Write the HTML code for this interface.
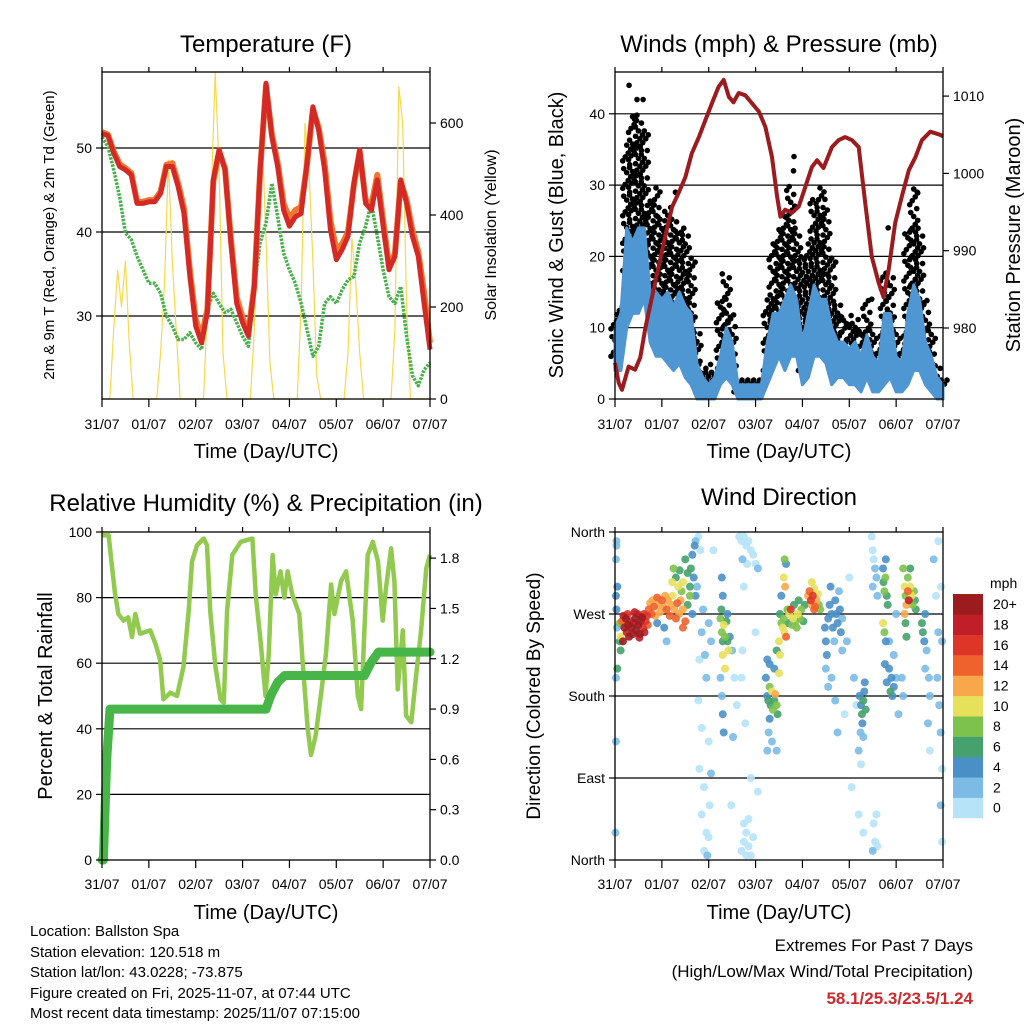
<!DOCTYPE html>
<html><head><meta charset="utf-8"><title>Weather Station Charts</title>
<style>
html,body{margin:0;padding:0;background:#fff;}
svg{display:block;font-family:"Liberation Sans",Arial,sans-serif;}
</style></head>
<body>
<svg id="fig" width="1024" height="1024" viewBox="0 0 1024 1024" xmlns="http://www.w3.org/2000/svg">
<rect x="0" y="0" width="1024" height="1024" fill="#fff"/>
<g id="layer"></g>
<!-- Titles -->
<text x="266" y="52" font-size="24" text-anchor="middle">Temperature (F)</text>
<text x="779" y="52" font-size="24" text-anchor="middle">Winds (mph) &amp; Pressure (mb)</text>
<text x="266" y="511" font-size="24" text-anchor="middle">Relative Humidity (%) &amp; Precipitation (in)</text>
<text x="779" y="505" font-size="24" text-anchor="middle">Wind Direction</text>
<!-- x axis titles -->
<text x="266" y="458" font-size="20" text-anchor="middle">Time (Day/UTC)</text>
<text x="779" y="458" font-size="20" text-anchor="middle">Time (Day/UTC)</text>
<text x="266" y="919" font-size="20" text-anchor="middle">Time (Day/UTC)</text>
<text x="779" y="919" font-size="20" text-anchor="middle">Time (Day/UTC)</text>
<!-- y axis titles -->
<text transform="translate(54,235) rotate(-90)" font-size="15" text-anchor="middle">2m &amp; 9m T (Red, Orange) &amp; 2m Td (Green)</text>
<text transform="translate(496,235) rotate(-90)" font-size="16" text-anchor="middle">Solar Insolation (Yellow)</text>
<text transform="translate(563,235) rotate(-90)" font-size="20" text-anchor="middle">Sonic Wind &amp; Gust (Blue, Black)</text>
<text transform="translate(1020,235) rotate(-90)" font-size="20" text-anchor="middle">Station Pressure (Maroon)</text>
<text transform="translate(52,696) rotate(-90)" font-size="20" text-anchor="middle">Percent &amp; Total Rainfall</text>
<text transform="translate(540,696) rotate(-90)" font-size="19" text-anchor="middle">Direction (Colored By Speed)</text>
<!-- info -->
<g font-size="15">
<text x="30" y="936">Location: Ballston Spa</text>
<text x="30" y="957">Station elevation: 120.518 m</text>
<text x="30" y="977">Station lat/lon: 43.0228; -73.875</text>
<text x="30" y="998">Figure created on Fri, 2025-11-07, at 07:44 UTC</text>
<text x="30" y="1018">Most recent data timestamp: 2025/11/07 07:15:00</text>
</g>
<text x="973" y="951" font-size="17" text-anchor="end">Extremes For Past 7 Days</text>
<text x="973" y="977" font-size="17" text-anchor="end">(High/Low/Max Wind/Total Precipitation)</text>
<text x="973" y="1004" font-size="17" font-weight="bold" fill="#cc2a2f" text-anchor="end">58.1/25.3/23.5/1.24</text>
</svg>
<script>
// ---------------- DATA ----------------
const dayLabels = ['31/07','01/07','02/07','03/07','04/07','05/07','06/07','07/07'];
// temperature, 3-hourly (t = k/8 days)
const temp2m = [51.7,51.5,49.4,47.8,47.4,46.8,43.4,43.4,43.6,43.6,44.6,47.8,47.8,45.4,42.2,34.7,28.8,26.8,30.4,46.2,49.8,47.4,38.7,31.5,29.2,27.6,33.5,47.4,57.7,51.3,47.8,42.6,40.7,41.8,42.2,48.2,54.9,52.1,47.4,40.3,36.7,37.9,39.5,45.8,49.8,43.4,42.6,46.2,40.7,35.5,37.1,46.2,43.4,39.5,37.1,31.5,26.0];
const temp9m = [51.9,51.6,49.6,48.1,47.6,47.0,43.6,43.6,43.8,43.8,44.8,48.0,48.2,45.8,42.8,35.4,29.6,27.6,30.8,46.0,49.6,47.6,39.2,32.2,29.8,28.0,33.6,47.2,57.4,51.6,48.2,43.4,41.6,42.6,43.0,48.0,54.6,52.4,48.2,41.4,37.8,38.6,40.0,45.6,49.6,43.8,43.2,46.8,41.4,36.0,37.4,46.0,43.8,40.2,37.6,32.8,26.8];
const dewPoint = [51.3,50.2,47.4,44.2,39.9,39.1,37.1,35.5,33.9,33.9,32.7,30.0,28.8,27.2,27.2,28.0,26.8,26.0,30.8,32.7,31.5,30.4,30.8,29.2,27.6,26.4,33.5,38.7,41.1,45.8,41.8,37.5,35.5,33.9,31.5,28.4,25.2,26.4,31.5,32.3,31.5,33.1,34.3,34.7,38.7,40.7,43.4,39.5,35.5,32.3,31.5,33.5,27.6,22.9,21.7,23.6,24.4];
// solar insolation, 2-hourly (t = i/12 days)
const solar = [0,0,0,150,280,200,300,120,0,0,0,0, 0,0,0,100,250,520,300,150,0,0,0,0, 0,0,0,200,450,710,500,100,0,0,0,0, 0,0,0,150,400,570,350,80,0,0,0,0, 0,0,0,200,600,500,300,50,0,0,0,0, 0,0,0,100,350,250,100,0,0,0,0,0, 0,0,0,150,680,600,200,0,0,0,0,0, 0];
// wind, 3-hourly
const windLo = [4,4,10,12,12,14,8,6,6,5,4,5,3,2,0,0,0,0,2,3,2,0,0,0,0,0,2,4,6,4,6,6,2,3,6,6,5,2,3,3,2,2,1,3,1,1,2,3,1,1,2,4,4,2,1,0,0];
const windHi = [10,12,24,22,24,24,15,15,14,15,13,15,13,12,5,3,2,3,6,10,8,2,2,2,2,2,8,12,12,14,16,14,8,12,16,14,14,10,8,8,7,8,6,9,6,5,12,12,6,5,12,16,14,8,6,3,2];
const gustLo = [6,8,18,22,20,20,14,12,14,12,10,12,8,6,2,1,1,1,3,6,3,1,1,1,1,1,4,8,10,8,10,8,4,8,12,12,10,6,6,5,4,4,3,5,3,2,5,6,3,2,5,8,8,5,3,1,1];
const gustHi = [12,14,36,40,40,38,28,30,26,27,25,24,24,20,10,5,4,5,14,18,12,3,3,3,3,3,14,22,24,26,30,24,20,22,28,30,27,20,14,12,11,12,10,14,10,8,18,18,10,8,24,30,24,14,10,5,3];
const gustOutlierT = [0.3,0.47,0.6,1.29,3.81,3.82,4.48,5.48,5.83,6.45,2.37];
const gustOutlierV = [44,42,42,29,32,34,28,14,24,29,14];
// pressure
const presT = [0,0.08,0.15,0.29,0.43,0.54,0.65,0.79,0.93,1.07,1.22,1.36,1.5,1.64,1.79,1.93,2.07,2.21,2.32,2.43,2.53,2.64,2.78,2.92,3.07,3.21,3.35,3.46,3.53,3.63,3.78,3.92,4.06,4.2,4.31,4.45,4.63,4.77,4.91,5.06,5.2,5.34,5.48,5.63,5.73,5.84,5.98,6.12,6.27,6.41,6.55,6.73,6.94,7.0];
const presV = [975.5,972.9,972,975,974.6,976.2,980.1,984,987.9,991.8,995.7,997.5,999.5,1002.6,1004.7,1006.9,1009.1,1011.2,1012.1,1009.9,1009.2,1010.4,1010.1,1009.1,1008,1006,1002.1,997,994.4,995.3,994.9,995.7,998.2,1000.8,1001.7,1000.7,1003.4,1004.3,1004.7,1004.3,1003.4,996.2,989.2,985.8,984,987.5,993.6,997,1000.4,1002.1,1004.3,1005.4,1005,1004.8];
// relative humidity
const rhT = [0,0.14,0.21,0.28,0.35,0.46,0.56,0.64,0.71,0.81,1.03,1.14,1.24,1.31,1.46,1.6,1.74,1.85,1.92,2.03,2.17,2.24,2.31,2.42,2.53,2.6,2.67,2.78,2.96,3.21,3.28,3.39,3.49,3.56,3.64,3.71,3.81,3.89,3.96,4.06,4.21,4.28,4.39,4.46,4.56,4.67,4.78,4.89,4.96,5.1,5.21,5.35,5.46,5.53,5.6,5.67,5.78,5.89,5.99,6.06,6.17,6.24,6.31,6.42,6.49,6.6,6.71,6.81,6.92,7.0];
const rhV = [99,99,90,81,75,73,74,68,75,69,70,66,61,49,51,50,59,76,91,96,98,96,76,59,49,48,76,93,97,98,81,66,50,63,93,81,88,80,88,81,75,61,40,32,38,50,63,84,75,85,88,73,50,46,70,93,97,91,73,83,95,85,52,70,44,42,57,70,89,93];
const precipT = [0,0.03,0.1,0.17,3.5,3.6,3.75,3.9,5.6,5.75,5.9,7.0];
const precipV = [0,0,0.6,0.9,0.9,0.98,1.06,1.1,1.1,1.18,1.24,1.24];
// wind direction observations: time (days), direction (deg), speed (mph)
const dirObs = [
[0.02,290,4],[0.03,275,4],[0.05,300,4],[0.04,255,3],[0.02,330,3],[0.03,350,3],[0.1,240,6],[0.12,230,7],[0.1,260,8],[0.02,200,3],[0.05,210,7],[0.02,130,3],[0.01,30,2],[0.03,345,2],
[0.15,262,14],[0.18,268,18],[0.2,255,20],[0.23,265,20],[0.25,250,18],[0.28,258,20],[0.3,245,20],[0.33,262,18],[0.35,255,20],[0.38,248,20],[0.4,260,18],[0.43,265,20],[0.45,252,20],[0.48,270,18],[0.5,258,20],[0.53,248,20],[0.55,262,18],[0.58,266,20],[0.6,255,16],[0.63,250,18],[0.65,262,16],[0.68,268,16],[0.7,258,14],[0.17,240,20],[0.27,270,16],[0.42,272,18],[0.52,244,18],[0.62,270,16],[0.2,262,12],[0.12,245,10],
[0.72,275,14],[0.75,282,12],[0.78,270,14],[0.8,285,12],[0.83,278,14],[0.86,268,12],[0.9,288,14],[0.93,280,12],[0.96,272,12],[1.0,285,14],[1.03,278,12],[1.07,290,12],[1.1,275,14],[1.13,285,12],[1.17,268,14],[1.2,280,12],[1.23,290,10],[1.27,275,12],[1.3,265,14],[1.33,282,14],[1.37,270,12],[1.4,285,12],[1.45,275,12],[1.5,262,14],[1.45,255,14],[0.9,260,4],[1.05,255,4],[1.1,240,3],
[1.22,305,10],[1.25,320,8],[1.3,310,6],[1.35,300,10],[1.38,318,6],[1.42,295,8],[1.45,305,10],[1.5,330,6],[1.55,315,6],[1.6,300,6],[1.62,320,6],[1.65,335,5],[1.68,310,4],[1.7,345,4],[1.72,350,3],[1.72,290,4],[1.55,280,6],[1.6,290,8],[1.65,270,4],[1.75,300,2],
[1.78,355,1],[1.82,340,1],[1.85,250,2],[1.8,220,1],[1.78,175,1],[1.85,145,1],[1.8,100,1],[1.9,80,1],[1.85,50,1],[1.95,30,1],[1.9,10,1],[2.0,260,2],[2.05,240,2],[1.95,200,2],[2.0,130,1],[2.05,95,2],[2.1,340,1],[2.0,25,1],[1.88,275,2],[1.92,225,3],[2.02,60,1],[1.97,5,2],
[2.25,265,8],[2.28,250,8],[2.3,240,6],[2.32,258,10],[2.35,245,8],[2.38,262,6],[2.4,240,6],[2.42,230,10],[2.3,225,10],[2.35,210,10],[2.27,275,6],[2.4,270,4],[2.25,200,3],[2.28,180,3],[2.3,160,4],[2.32,140,4],[2.28,310,4],[2.3,290,4],[2.45,245,4],[2.5,230,2],[2.55,200,1],[2.6,170,1],[2.52,135,2],[2.48,60,1],
[2.65,355,0],[2.7,350,1],[2.75,355,0],[2.8,345,0],[2.85,350,1],[2.9,340,0],[2.95,335,1],[3.0,325,0],[2.72,330,2],[2.82,325,1],[3.05,320,3],[2.7,10,0],[2.75,20,0],[2.8,30,1],[2.85,15,0],[2.9,5,1],[2.95,25,0],[2.8,5,0],[2.75,40,1],[2.85,45,0],[3.05,75,1],[2.9,90,0],[3.0,250,1],[2.75,300,1],[2.72,230,1],[2.7,200,0],[2.78,150,1],
[3.22,200,4],[3.25,180,4],[3.27,175,6],[3.3,190,8],[3.32,170,6],[3.35,185,10],[3.37,165,8],[3.4,175,6],[3.42,182,12],[3.45,170,8],[3.47,160,6],[3.3,155,4],[3.28,140,3],[3.35,130,3],[3.25,220,4],[3.3,215,4],[3.4,210,4],[3.45,230,6],[3.5,240,10],[3.5,205,10],[3.45,120,2],[3.25,120,3],
[3.52,270,6],[3.55,260,8],[3.58,255,10],[3.6,265,8],[3.62,250,10],[3.65,245,14],[3.68,275,8],[3.7,260,6],[3.72,270,10],[3.75,275,16],[3.78,258,8],[3.8,265,10],[3.82,280,6],[3.85,262,8],[3.88,255,8],[3.9,270,10],[3.92,285,6],[3.95,265,8],[3.98,275,8],[4.02,262,6],[4.05,280,6],[3.6,310,10],[3.63,300,12],[3.65,325,4],[3.62,330,8],[3.55,290,4],[3.52,225,10],
[4.12,290,12],[4.15,295,14],[4.18,285,16],[4.2,280,12],[4.22,290,16],[4.25,298,10],[4.27,278,14],[4.3,285,12],[4.33,292,10],[4.35,280,8],[4.38,275,8],[4.2,305,10],[4.25,275,14],
[4.48,255,4],[4.5,240,4],[4.52,225,4],[4.5,210,3],[4.55,265,4],[4.58,280,4],[4.6,300,4],[4.62,270,4],[4.65,255,4],[4.68,240,3],[4.7,285,4],[4.72,270,4],[4.75,260,4],[4.78,295,3],[4.8,275,4],[4.82,250,4],[4.85,265,2],[4.55,190,3],[4.62,200,2],[4.7,175,2],[4.75,140,2],[4.85,230,2],[4.9,160,1],[5.0,310,1],[4.95,240,2],[5.05,80,1],[5.1,200,2],[5.15,170,1],
[5.22,180,4],[5.25,170,4],[5.27,160,6],[5.3,175,6],[5.32,185,4],[5.28,150,4],[5.24,140,3],[5.3,135,3],[5.2,120,2],[5.35,165,6],[5.33,195,4],[5.25,105,1],[5.2,50,1],[5.3,30,0],
[5.48,355,0],[5.5,340,1],[5.52,330,1],[5.55,320,2],[5.5,300,2],[5.58,310,2],[5.6,290,3],[5.52,40,0],[5.55,20,1],[5.5,10,2],[5.58,50,1],[5.6,15,1],
[5.72,320,4],[5.73,305,6],[5.75,295,8],[5.77,310,8],[5.8,290,6],[5.82,280,6],[5.78,330,4],[5.72,260,10],[5.75,250,8],[5.78,240,4],[5.76,215,4],[5.8,195,4],[5.85,210,4],[5.9,200,4],[5.88,185,6],[5.92,180,4],[5.95,190,4],[5.95,225,3],[5.85,240,2],[6.0,200,2],[6.05,160,2],[6.0,270,2],
[6.15,320,8],[6.18,300,10],[6.2,290,8],[6.22,280,12],[6.25,295,14],[6.27,285,18],[6.3,300,10],[6.33,290,10],[6.35,280,8],[6.38,295,8],[6.4,285,6],[6.42,275,6],[6.2,260,6],[6.22,245,6],[6.18,270,12],[6.25,310,8],[6.3,320,6],[6.12,200,2],[6.15,180,2],
[6.55,260,6],[6.57,250,6],[6.6,240,4],[6.62,270,4],[6.65,230,2],[6.7,200,2],[6.72,180,2],[6.68,150,2],[6.72,120,1],[6.62,210,3],
[6.8,330,2],[6.85,290,1],[6.9,250,2],[6.88,200,2],[6.92,170,2],[6.95,140,2],[6.98,100,1],[6.95,60,2],[6.98,20,1],[6.9,350,1],[6.98,240,2],[6.96,300,1]
];
const speedLabels = ['0','2','4','6','8','10','12','14','16','18','20+'];
const speedColors = ['#b6e3f8','#7cbbe5','#4a90c6','#45a26d','#7dc24c','#e7e05a','#f8a84a','#f0622d','#de3529','#c11f27','#9b1b1e'];
const tempTicks = [30,40,50];
const solarTicks = [0,200,400,600];
const windTicks = [0,10,20,30,40];
const presTicks = [980,990,1000,1010];
const rhTicks = [0,20,40,60,80,100];
const precipTicks = [0,0.3,0.6,0.9,1.2,1.5,1.8];
const dirTicks = [360,270,180,90,0];
const dirLabels = ['North','West','South','East','North'];

// ---------------- SCALES ----------------
const NS = 'http://www.w3.org/2000/svg';
const layer = document.getElementById('layer');
function mk(tag, attrs, parent){ const e=document.createElementNS(NS,tag); for(const k in attrs) e.setAttribute(k,attrs[k]); (parent||layer).appendChild(e); return e; }
function xL(t){ return 102 + t*328/7; }
function xR(t){ return 615 + t*328/7; }
function yTemp(v){ return 148 + (50-v)*8.4; }
function ySolar(v){ return 399 - v*0.46; }
function yWind(v){ return 399 - v*7.13; }
function yPres(v){ return 328 - (v-980)*7.73; }
function yRH(v){ return 860 - v*3.28; }
function yPrecip(v){ return 860 - v*167.7; }
function yDir(v){ return 860 - v/360*328; }
function speedIdx(s){ return Math.min(10, Math.max(0, Math.floor(s/2))); }
function pts(xs, ys, xf, yf){ return xs.map((t,i)=>xf(t).toFixed(1)+','+yf(ys[i]).toFixed(1)).join(' '); }
const k8 = temp2m.map((v,i)=>i/8);
const k12 = solar.map((v,i)=>i/12);
const w8 = windLo.map((v,i)=>i/8);

// ---------------- FRAMES / AXES ----------------
function gridAndAxes(x0, y0, y1, gridYs, name){
  const g = mk('g', {});
  
  
  gridYs.forEach(y=>{
    const l = mk('line',{x1:x0,x2:x0+328,y1:y,y2:y,stroke:'#000','stroke-width':1.2},g);
    
    
  });
  return g;
}
function borderAndTicks(x0, y0, y1, xf, name, labOff){
  const g = mk('g',{});
  
  
  const r = mk('rect',{x:x0,y:y0,width:328,height:y1-y0,fill:'none',stroke:'#000','stroke-width':1.3},g);
  
  
  dayLabels.forEach((lab,i)=>{
    const x = xf(i);
    mk('line',{x1:x,x2:x,y1:y1,y2:y1+8,stroke:'#000','stroke-width':1.2},g);
    mk('line',{x1:x,x2:x,y1:y0,y2:y0-5,stroke:'#000','stroke-width':1.2},g);
    const t = mk('text',{x:x,y:y1+labOff,'font-size':14,'text-anchor':'middle'},g);
    t.textContent = lab;
    
    
  });
  return g;
}
function leftTicks(x0, vals, yf, labels, g){
  vals.forEach((v,i)=>{
    const y=yf(v);
    mk('line',{x1:x0-6,x2:x0,y1:y,y2:y,stroke:'#000','stroke-width':1.2},g);
    const t = mk('text',{x:x0-10,y:y+5,'font-size':14,'text-anchor':'end'},g);
    t.textContent = labels ? labels[i] : String(v);
    
    
  });
}
function rightTicks(x1, vals, yf, fmt, g){
  vals.forEach(v=>{
    const y=yf(v);
    mk('line',{x1:x1,x2:x1+6,y1:y,y2:y,stroke:'#000','stroke-width':1.2},g);
    const t = mk('text',{x:x1+10,y:y+5,'font-size':14,'text-anchor':'start'},g);
    t.textContent = fmt(v);
    
    
  });
}

// ============ PANEL 1: TEMPERATURE ============
gridAndAxes(102,72,399,tempTicks.map(yTemp),'temperature-grid');
const sol = mk('polyline',{points:pts(k12,solar,xL,ySolar),fill:'none',stroke:'#f7d84c','stroke-width':1.2});


const dew = mk('polyline',{points:pts(k8,dewPoint,xL,yTemp),fill:'none',stroke:'#47b04a','stroke-width':3.5,'stroke-dasharray':'2.5,1.2','stroke-linejoin':'round'});


const t9 = mk('polyline',{points:pts(k8,temp9m,xL,yTemp),fill:'none',stroke:'#f2762e','stroke-width':6,'stroke-linejoin':'round'});


const t2 = mk('polyline',{points:pts(k8,temp2m,xL,yTemp),fill:'none',stroke:'#d42a26','stroke-width':5,'stroke-linejoin':'round'});


const ax1 = borderAndTicks(102,72,399,xL,'temperature-axes',30);
leftTicks(102,tempTicks,yTemp,null,ax1);
rightTicks(430,solarTicks,ySolar,v=>String(v),ax1);

// ============ PANEL 2: WINDS ============
gridAndAxes(615,72,399,windTicks.filter(v=>v>0).map(yWind),'winds-grid');
const gustG = mk('g',{fill:'#000'});


const jit = [-4,-1.5,1.5,4,0,-3,3];
windLo.forEach((v,i)=>{
  let j=0;
  for(let s=gustLo[i]; s<=gustHi[i]; s+=0.55){
    const c = mk('circle',{cx:xR(w8[i])+jit[j%7],cy:yWind(s),r:2.8},gustG);
    
    
    j++;
  }
});
gustOutlierT.forEach((t,i)=>{
  const c = mk('circle',{cx:xR(t),cy:yWind(gustOutlierV[i]),r:2.8},gustG);
  
  
});
const bandPts = pts(w8,windHi,xR,yWind)+' '+pts(w8.slice().reverse(),windLo.slice().reverse(),xR,yWind);
const band = mk('polygon',{points:bandPts,fill:'#4f97d2',stroke:'#4f97d2','stroke-width':3,'stroke-linejoin':'round'});


const pres = mk('polyline',{points:pts(presT,presV,xR,yPres),fill:'none',stroke:'#9b1b1e','stroke-width':4,'stroke-linejoin':'round'});


const ax2 = borderAndTicks(615,72,399,xR,'winds-axes',30);
leftTicks(615,windTicks,yWind,null,ax2);
rightTicks(943,presTicks,yPres,v=>String(v),ax2);

// ============ PANEL 3: HUMIDITY ============
gridAndAxes(102,532,860,rhTicks.filter(v=>v>0&&v<100).map(yRH),'humidity-grid');
const rh = mk('polyline',{points:pts(rhT,rhV,xL,yRH),fill:'none',stroke:'#92c94f','stroke-width':4.5,'stroke-linejoin':'round'});


const pr = mk('polyline',{points:pts(precipT,precipV,xL,yPrecip),fill:'none',stroke:'#48b548','stroke-width':9,'stroke-linejoin':'round','stroke-linecap':'round'});


const ax3 = borderAndTicks(102,532,860,xL,'humidity-axes',29);
leftTicks(102,rhTicks,yRH,null,ax3);
rightTicks(430,precipTicks,yPrecip,v=>v.toFixed(1),ax3);

// ============ PANEL 4: WIND DIRECTION ============
gridAndAxes(615,532,860,[270,180,90].map(yDir),'direction-grid');
const dirG = mk('g',{});


dirObs.slice().sort((a,b)=>a[2]-b[2]).forEach(o=>{
  const c = mk('circle',{cx:xR(o[0]),cy:yDir(o[1]),r:4,fill:speedColors[speedIdx(o[2])],'fill-opacity':0.9},dirG);
  
  
});
const ax4 = borderAndTicks(615,532,860,xR,'direction-axes',29);
leftTicks(615,dirTicks,yDir,dirLabels,ax4);
// colorbar
const cb = mk('g',{});


const cbTitle = mk('text',{x:990,y:588,'font-size':14},cb);
cbTitle.textContent='mph';


speedLabels.forEach((lab,i)=>{
  const y = 818 - (i+1)*20.36;
  const r = mk('rect',{x:953,y:y,width:30,height:20.6,fill:speedColors[i]},cb);
  
  
  const t = mk('text',{x:993,y:y+15,'font-size':14},cb);
  t.textContent = lab;
  
  
});
</script>
</body></html>
